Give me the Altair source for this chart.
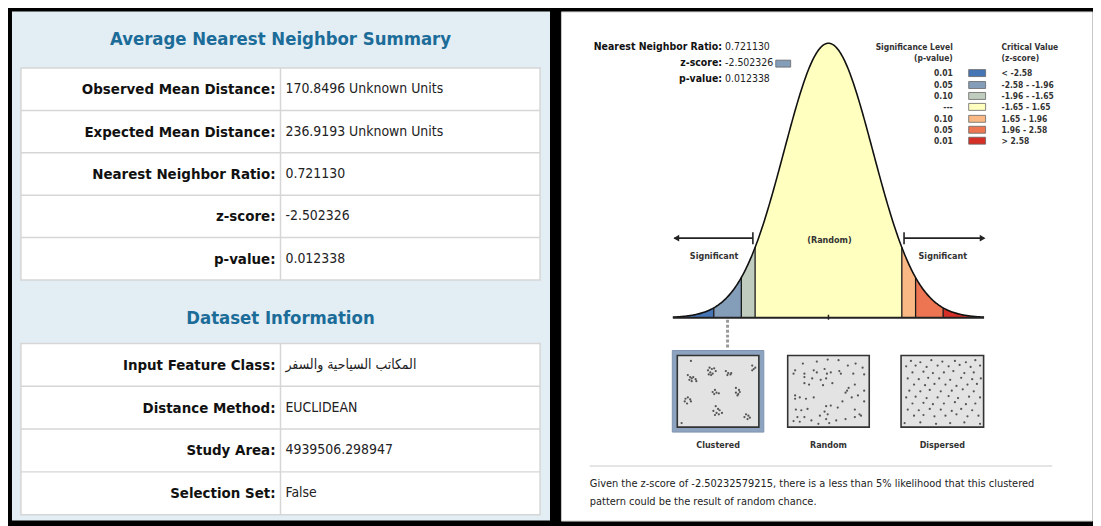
import numpy as np
import pandas as pd
import altair as alt

# ---------------- data ----------------
summary_labels = ["Observed Mean Distance:", "Expected Mean Distance:", "Nearest Neighbor Ratio:", "z-score:", "p-value:"]
summary_values = ["170.8496 Unknown Units", "236.9193 Unknown Units", "0.721130", "-2.502326", "0.012338"]
dataset_labels = ["Input Feature Class:", "Distance Method:", "Study Area:", "Selection Set:"]
dataset_values = ["المكاتب السياحية والسفر", "EUCLIDEAN", "4939506.298947", "False"]

head_labels = ["Nearest Neighbor Ratio:", "z-score:", "p-value:"]
head_values = ["0.721130", "-2.502326", "0.012338"]

sig_levels = ["0.01", "0.05", "0.10", "---", "0.10", "0.05", "0.01"]
crit_ranges = ["< -2.58", "-2.58 - -1.96", "-1.96 - -1.65", "-1.65 - 1.65",
               "\u00a01.65 - 1.96", "\u00a01.96 - 2.58", "> 2.58"]
class_colors = ["#4575b5", "#849eba", "#c0ccbe", "#ffffbf", "#fab984", "#ed7551", "#d62f27"]
z_breaks = [-3.5, -2.58, -1.96, -1.65, 1.65, 1.96, 2.58, 3.5]
z_score = -2.502326

pattern_names = ["Clustered", "Random", "Dispersed"]

clustered_fx = [0.15, 0.39, 0.42, 0.45, 0.37, 0.40, 0.43, 0.47, 0.41, 0.38, 0.11, 0.14, 0.16, 0.13, 0.18,
                0.21, 0.22, 0.16, 0.60, 0.63, 0.66, 0.62, 0.67, 0.94, 0.96, 0.94, 0.98, 0.43, 0.46, 0.48,
                0.51, 0.45, 0.73, 0.77, 0.73, 0.76, 0.78, 0.75, 0.08, 0.11, 0.14, 0.07, 0.10, 0.15, 0.47,
                0.50, 0.44, 0.48, 0.52, 0.46, 0.51, 0.55, 0.86, 0.89, 0.84, 0.91, 0.88, 0.03]
clustered_fy = [0.05, 0.15, 0.17, 0.16, 0.19, 0.22, 0.24, 0.20, 0.26, 0.25, 0.26, 0.29, 0.31, 0.33, 0.29,
                0.32, 0.35, 0.35, 0.20, 0.23, 0.25, 0.26, 0.23, 0.12, 0.17, 0.19, 0.15, 0.51, 0.48, 0.52,
                0.53, 0.54, 0.45, 0.48, 0.52, 0.54, 0.51, 0.56, 0.61, 0.59, 0.62, 0.65, 0.68, 0.65, 0.72,
                0.76, 0.79, 0.82, 0.78, 0.85, 0.84, 0.82, 0.84, 0.86, 0.88, 0.89, 0.91, 0.97]

random_fx = [0.17, 0.35, 0.49, 0.63, 0.75, 0.85, 0.94, 0.07, 0.05, 0.19, 0.31, 0.35, 0.45, 0.48, 0.53,
             0.64, 0.66, 0.82, 0.96, 0.19, 0.29, 0.40, 0.47, 0.55, 0.19, 0.25, 0.43, 0.76, 0.84, 0.74,
             0.07, 0.13, 0.21, 0.31, 0.72, 0.80, 0.88, 0.96, 0.68, 0.47, 0.53, 0.62, 0.08, 0.15, 0.23,
             0.45, 0.49, 0.84, 0.10, 0.19, 0.28, 0.47, 0.60, 0.72, 0.84, 0.90, 0.05, 0.13, 0.37, 0.51,
             0.07, 0.39, 0.92, 0.96]
random_fy = [0.09, 0.06, 0.03, 0.04, 0.12, 0.09, 0.15, 0.19, 0.24, 0.24, 0.19, 0.22, 0.17, 0.24, 0.22,
             0.20, 0.24, 0.24, 0.25, 0.29, 0.31, 0.33, 0.31, 0.38, 0.38, 0.40, 0.41, 0.45, 0.40, 0.49,
             0.56, 0.59, 0.61, 0.59, 0.52, 0.59, 0.56, 0.49, 0.65, 0.72, 0.71, 0.74, 0.77, 0.78, 0.76,
             0.80, 0.84, 0.77, 0.88, 0.88, 0.93, 0.91, 0.93, 0.91, 0.88, 0.84, 0.94, 0.95, 0.98, 0.97,
             0.61, 0.86, 0.86, 0.65]

dispersed_fx = [0.10, 0.22, 0.36, 0.50, 0.66, 0.80, 0.92,
                0.04, 0.16, 0.30, 0.44, 0.58, 0.72, 0.86, 0.98,
                0.12, 0.26, 0.38, 0.52, 0.64, 0.78, 0.90,
                0.06, 0.20, 0.32, 0.46, 0.60, 0.74, 0.88, 0.99,
                0.14, 0.28, 0.40, 0.54, 0.68, 0.82, 0.94,
                0.08, 0.22, 0.34, 0.48, 0.62, 0.76, 0.90,
                0.04, 0.16, 0.30, 0.44, 0.58, 0.70, 0.84, 0.98,
                0.12, 0.26, 0.38, 0.52, 0.66, 0.80, 0.92,
                0.06, 0.20, 0.34, 0.48, 0.62, 0.74, 0.88,
                0.14, 0.26, 0.40, 0.54, 0.68, 0.82, 0.96,
                0.02, 0.22, 0.42, 0.60, 0.78, 0.98]
dispersed_fy = [0.05, 0.07, 0.04, 0.06, 0.05, 0.07, 0.04,
                0.13, 0.12, 0.14, 0.12, 0.13, 0.11, 0.14, 0.12,
                0.22, 0.21, 0.23, 0.22, 0.20, 0.23, 0.22,
                0.31, 0.32, 0.30, 0.31, 0.33, 0.30, 0.32, 0.31,
                0.40, 0.41, 0.39, 0.40, 0.42, 0.40, 0.39,
                0.49, 0.50, 0.48, 0.50, 0.49, 0.47, 0.50,
                0.59, 0.58, 0.60, 0.59, 0.57, 0.60, 0.58, 0.59,
                0.68, 0.67, 0.69, 0.68, 0.66, 0.69, 0.68,
                0.77, 0.78, 0.76, 0.77, 0.79, 0.76, 0.78,
                0.86, 0.85, 0.87, 0.86, 0.84, 0.87, 0.86,
                0.97, 0.96, 0.98, 0.97, 0.96, 0.98]

footer_lines = ["Given the z-score of -2.50232579215, there is a less than 5% likelihood that this clustered",
                "pattern could be the result of random chance."]

# ---------------- layout ----------------
W_L, W_R, H = 541, 534, 512
LF = "DejaVu Sans Condensed, DejaVu Sans, sans-serif"
RF = "DejaVu Sans Condensed, DejaVu Sans, sans-serif"
TITLE_C = "#1b6c98"
GRID_C = "#d6d6d6"

def lx(px):
    return px - 12

def ly(py):
    return py - 10

LX = alt.Scale(domain=[0, W_L], nice=False, zero=False)
LY = alt.Scale(domain=[0, 512], reverse=True, nice=False, zero=False)

CX, KX, BASE, KY = 832.0, 44.7, 318.0, 691.9

def zx(px):
    return (px - CX) / KX

def dy(py):
    return (BASE - py) / KY

RX = alt.Scale(domain=[zx(563), zx(563 + W_R)], nice=False, zero=False)
RY = alt.Scale(domain=[dy(10 + H), dy(10)], nice=False, zero=False)


def lenc(extra=None):
    e = dict(x=alt.X("x:Q", scale=LX, axis=None), y=alt.Y("y:Q", scale=LY, axis=None))
    if extra:
        e.update(extra)
    return e


def renc(extra=None):
    e = dict(x=alt.X("x:Q", scale=RX, axis=None), y=alt.Y("y:Q", scale=RY, axis=None))
    if extra:
        e.update(extra)
    return e


def ltext(df, align, size, weight="normal", color="#1a1a1a"):
    return alt.Chart(df).mark_text(align=align, baseline="middle", font=LF, fontSize=size,
                                   fontWeight=weight, color=color).encode(**lenc({"text": "t:N"}))


def rtext(df, align, size, weight="normal", color="#222222"):
    return alt.Chart(df).mark_text(align=align, baseline="middle", font=RF, fontSize=size,
                                   fontWeight=weight, color=color).encode(**renc({"text": "t:N"}))

# ---------------- left panel (tables) ----------------
tables = [
    dict(title="Average Nearest Neighbor Summary", title_y=38, top=67, row_h=42.6,
         labels=summary_labels, values=summary_values),
    dict(title="Dataset Information", title_y=318, top=344, row_h=43.0,
         labels=dataset_labels, values=dataset_values),
]
T_LEFT, T_RIGHT, T_DIV = 21, 543, 282

rect_rows, hline_rows, vline_rows, title_rows, lab_rows, val_rows = [], [], [], [], [], []
for t in tables:
    n = len(t["labels"])
    bottom = t["top"] + n * t["row_h"]
    rect_rows.append(dict(x=lx(T_LEFT), x2=lx(T_RIGHT), y=ly(t["top"]), y2=ly(bottom)))
    vline_rows.append(dict(x=lx(T_DIV), y=ly(t["top"]), y2=ly(bottom)))
    title_rows.append(dict(x=lx(T_DIV), y=ly(t["title_y"]), t=t["title"]))
    for i in range(n):
        cy = t["top"] + (i + 0.5) * t["row_h"]
        lab_rows.append(dict(x=lx(T_DIV - 5), y=ly(cy), t=t["labels"][i]))
        val_rows.append(dict(x=lx(T_DIV + 5), y=ly(cy), t=t["values"][i]))
        if i > 0:
            yy = t["top"] + i * t["row_h"]
            hline_rows.append(dict(x=lx(T_LEFT), x2=lx(T_RIGHT), y=ly(yy)))

left_layers = [
    alt.Chart(pd.DataFrame(rect_rows)).mark_rect(fill="white", stroke=GRID_C, strokeWidth=1.5).encode(
        **lenc({"x2": "x2:Q", "y2": "y2:Q"})),
    alt.Chart(pd.DataFrame(hline_rows)).mark_rule(color=GRID_C, strokeWidth=1.5).encode(**lenc({"x2": "x2:Q"})),
    alt.Chart(pd.DataFrame(vline_rows)).mark_rule(color=GRID_C, strokeWidth=1.5).encode(**lenc({"y2": "y2:Q"})),
    ltext(pd.DataFrame(title_rows), "center", 18.5, "bold", TITLE_C),
    ltext(pd.DataFrame(lab_rows), "right", 15, "bold", "#111111"),
    ltext(pd.DataFrame(val_rows), "left", 14, "normal", "#222222"),
]
left = alt.layer(*left_layers).properties(
    width=W_L, height=H, view=alt.ViewBackground(fill="#e3edf4", stroke=None))

# ---------------- right panel (bell curve diagram) ----------------
def pdf(z):
    return np.exp(-0.5 * z * z) / np.sqrt(2 * np.pi)

area_rows = []
for i in range(7):
    a, b = z_breaks[i], z_breaks[i + 1]
    for z in np.linspace(a, b, max(3, int((b - a) / 0.02) + 1)):
        area_rows.append(dict(x=float(z), y=float(pdf(z)), cls=crit_ranges[i]))
area_df = pd.DataFrame(area_rows)
curve_df = pd.DataFrame({"x": np.linspace(-3.5, 3.5, 351)})
curve_df["y"] = pdf(curve_df["x"])
bnd_df = pd.DataFrame({"x": z_breaks[1:-1]})
bnd_df["y"] = pdf(bnd_df["x"])
bnd_df["y2"] = 0.0

color_scale = alt.Scale(domain=crit_ranges, range=class_colors)

boxes = [(680, 762), (791, 873), (905, 988)]
BOX_T, BOX_B = 356, 428
box_df = pd.DataFrame([dict(x=zx(a), x2=zx(b), y=dy(BOX_T), y2=dy(BOX_B)) for a, b in boxes])
frame_df = pd.DataFrame([dict(x=zx(675), x2=zx(767), y=dy(351), y2=dy(433))])
box_lab_df = pd.DataFrame([dict(x=zx((a + b) / 2), y=dy(446), t=n) for (a, b), n in zip(boxes, pattern_names)])

pt_rows = []
for (a, b), fxs, fys in zip(boxes, [clustered_fx, random_fx, dispersed_fx], [clustered_fy, random_fy, dispersed_fy]):
    for fx, fy in zip(fxs, fys):
        px = a + 2 + fx * (b - a - 4)
        py = BOX_T + 2 + fy * (BOX_B - BOX_T - 4)
        pt_rows.append(dict(x=zx(px), y=dy(py)))
pt_df = pd.DataFrame(pt_rows)

ARROW_Y = dy(238)
arrow_df = pd.DataFrame([dict(x=zx(677), x2=zx(756), y=ARROW_Y), dict(x=zx(908), x2=zx(988), y=ARROW_Y)])
bar_df = pd.DataFrame([dict(x=zx(756), y=dy(232), y2=dy(244)), dict(x=zx(908), y=dy(232), y2=dy(244))])
tri_l = pd.DataFrame([dict(x=zx(679), y=ARROW_Y)])
tri_r = pd.DataFrame([dict(x=zx(987), y=ARROW_Y)])

band_mid = (z_breaks[1] + z_breaks[2]) / 2
dot_df = pd.DataFrame([dict(x=band_mid, y=dy(320), y2=dy(350))])

# header texts
HEAD_RIGHT = 725
head_lab_df = pd.DataFrame([dict(x=zx(HEAD_RIGHT), y=dy(46 + 16 * i), t=s) for i, s in enumerate(head_labels)])
head_val_df = pd.DataFrame([dict(x=zx(HEAD_RIGHT + 3), y=dy(46 + 16 * i), t=s) for i, s in enumerate(head_values)])
zsw_df = pd.DataFrame([dict(x=zx(779), x2=zx(794), y=dy(59), y2=dy(66), cls=crit_ranges[1])])

# legend
LEG_ROWS = [72, 84, 95, 106, 118, 129, 140]
leg_hdr_r = pd.DataFrame([dict(x=zx(957), y=dy(46), t="Significance Level"), dict(x=zx(957), y=dy(57), t="(p-value)")])
leg_hdr_l = pd.DataFrame([dict(x=zx(1006), y=dy(46), t="Critical Value"), dict(x=zx(1006), y=dy(57), t="(z-score)")])
leg_p = pd.DataFrame([dict(x=zx(957), y=dy(r), t=s) for r, s in zip(LEG_ROWS, sig_levels)])
leg_z = pd.DataFrame([dict(x=zx(1006), y=dy(r), t=s) for r, s in zip(LEG_ROWS, crit_ranges)])
leg_sw = pd.DataFrame([dict(x=zx(973), x2=zx(990), y=dy(r - 3.5), y2=dy(r + 3.5), cls=c)
                       for r, c in zip(LEG_ROWS, crit_ranges)])

sig_df = pd.DataFrame([dict(x=zx(717), y=dy(256), t="Significant"), dict(x=zx(947), y=dy(256), t="Significant")])
rand_df = pd.DataFrame([dict(x=zx(833), y=dy(240), t="(Random)")])

sep_df = pd.DataFrame([dict(x=zx(592), x2=zx(1057), y=dy(467))])
foot_df = pd.DataFrame([dict(x=zx(592), y=dy(485 + 18 * i), t=s) for i, s in enumerate(footer_lines)])

right_layers = [
    alt.Chart(area_df).mark_area(opacity=1).encode(
        x=alt.X("x:Q", scale=RX, axis=None),
        y=alt.Y("y:Q", scale=RY, axis=None, stack=None),
        y2=alt.datum(0),
        color=alt.Color("cls:N", scale=color_scale, legend=None),
        detail="cls:N"),
    alt.Chart(bnd_df).mark_rule(color="#1a1a1a", strokeWidth=1.3).encode(**renc({"y2": "y2:Q"})),
    alt.Chart(curve_df).mark_line(color="#111111", strokeWidth=1.6).encode(**renc()),
    alt.Chart(pd.DataFrame([dict(x=-3.5, x2=3.5, y=0.0)])).mark_rule(color="#222222", strokeWidth=2).encode(
        **renc({"x2": "x2:Q"})),
    alt.Chart(pd.DataFrame([dict(x=0.0, y=dy(315), y2=dy(320))])).mark_rule(color="#222222", strokeWidth=1.5).encode(
        **renc({"y2": "y2:Q"})),
    alt.Chart(arrow_df).mark_rule(color="#222222", strokeWidth=1.6).encode(**renc({"x2": "x2:Q"})),
    alt.Chart(bar_df).mark_rule(color="#222222", strokeWidth=1.6).encode(**renc({"y2": "y2:Q"})),
    alt.Chart(tri_l).mark_point(shape="triangle-left", filled=True, size=45, color="#222222", opacity=1).encode(**renc()),
    alt.Chart(tri_r).mark_point(shape="triangle-right", filled=True, size=45, color="#222222", opacity=1).encode(**renc()),
    rtext(rand_df, "center", 9, "bold", "#333333"),
    rtext(sig_df, "center", 9, "bold", "#333333"),
    alt.Chart(dot_df).mark_rule(color="#9a9a9a", strokeWidth=3, strokeDash=[3, 2]).encode(**renc({"y2": "y2:Q"})),
    alt.Chart(frame_df).mark_rect(fill="#8da3bf", stroke="#7d93b0", strokeWidth=1).encode(**renc({"x2": "x2:Q", "y2": "y2:Q"})),
    alt.Chart(box_df).mark_rect(fill="#e3e3e3", stroke="#333333", strokeWidth=1.6).encode(**renc({"x2": "x2:Q", "y2": "y2:Q"})),
    alt.Chart(pt_df).mark_circle(size=5, color="#555555", opacity=1).encode(**renc()),
    rtext(box_lab_df, "center", 9, "bold", "#333333"),
    rtext(head_lab_df, "right", 10.5, "bold", "#111111"),
    rtext(head_val_df, "left", 10.5, "normal", "#222222"),
    alt.Chart(zsw_df).mark_rect(stroke="#666666", strokeWidth=0.8).encode(
        **renc({"x2": "x2:Q", "y2": "y2:Q", "color": alt.Color("cls:N", scale=color_scale, legend=None)})),
    rtext(leg_hdr_r, "right", 8.5, "bold", "#333333"),
    rtext(leg_hdr_l, "left", 8.5, "bold", "#333333"),
    rtext(leg_p, "right", 8.5, "bold", "#333333"),
    rtext(leg_z, "left", 8.5, "bold", "#333333"),
    alt.Chart(leg_sw).mark_rect(stroke="#666666", strokeWidth=0.8).encode(
        **renc({"x2": "x2:Q", "y2": "y2:Q", "color": alt.Color("cls:N", scale=color_scale, legend=None)})),
    alt.Chart(sep_df).mark_rule(color="#dddddd", strokeWidth=1.5).encode(**renc({"x2": "x2:Q"})),
    rtext(foot_df, "left", 11, "normal", "#222222"),
]
right = alt.layer(*right_layers).properties(
    width=W_R, height=H, view=alt.ViewBackground(fill="white", stroke="#c8c8c8", strokeWidth=1))

chart = alt.hconcat(left, right, spacing=10).resolve_scale(
    x="independent", y="independent", color="independent"
).properties(
    background="black", padding={"left": 4, "top": 1, "right": 0, "bottom": 5}
).configure_view(stroke=None)

chart.save("out.html", embed_options={"renderer": "svg", "actions": False})
